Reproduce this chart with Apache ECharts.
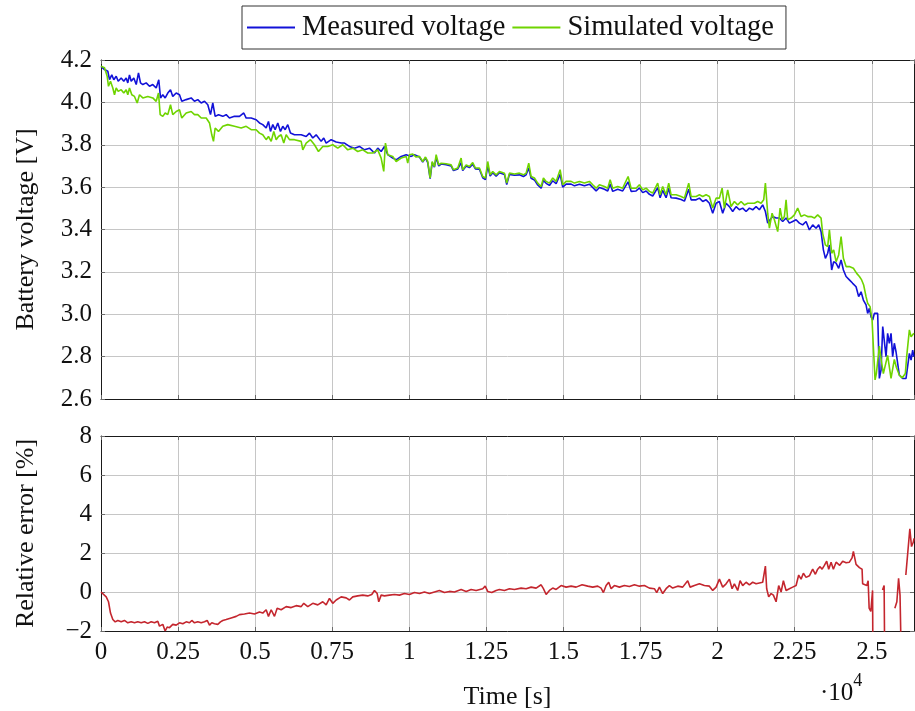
<!DOCTYPE html>
<html>
<head>
<meta charset="utf-8">
<script src="https://cdn.jsdelivr.net/npm/echarts@6/dist/echarts.min.js"></script>
<style>
html, body { margin: 0; padding: 0; background: #fff; }
#chart { width: 915px; height: 711px; }
</style>
</head>
<body>
<div id="chart"></div>
<script>
// Measured battery voltage [V] over time [s]
const measuredTime = [0,114,169,221,276,350,415,493,558,655,739,817,869,924,979,1064,1142,1216,1281,1356,1466,1573,1680,1790,1874,1930,2004,2082,2166,2254,2328,2439,2546,2620,2763,2925,3032,3139,3250,3357,3464,3551,3626,3703,3811,3950,4060,4167,4329,4492,4631,4709,4871,5033,5140,5247,5357,5432,5497,5572,5649,5734,5821,5896,5974,6058,6146,6275,6493,6655,6762,6869,6979,7141,7225,7303,7465,7628,7790,7897,8059,8221,8383,8546,8708,8870,8977,9087,9194,9301,9463,9573,9736,9898,10060,10167,10329,10436,10524,10598,10676,10741,10815,10871,10955,11033,11195,11357,11432,11571,11681,11733,11843,11950,12057,12145,12274,12382,12469,12544,12622,12706,12816,12923,13086,13160,13248,13410,13572,13702,13789,13874,13951,14058,14165,14276,14350,14438,14545,14652,14762,14892,14976,15086,15249,15356,15518,15680,15842,15949,16059,16166,16329,16436,16514,16598,16760,16922,17097,17194,17356,17463,17570,17681,17788,17895,18057,18135,18219,18329,18414,18491,18654,18816,18923,19063,19140,19302,19410,19517,19627,19734,19841,19951,20058,20165,20275,20382,20489,20599,20707,20814,20924,21031,21138,21248,21355,21462,21550,21624,21702,21787,21897,22004,22111,22221,22328,22435,22545,22652,22759,22869,22977,23084,23194,23279,23356,23431,23496,23570,23626,23700,23765,23843,23927,24005,24080,24167,24274,24381,24491,24575,24653,24728,24815,24867,24923,24978,25030,25085,25140,25192,25246,25301,25356,25408,25463,25515,25570,25625,25678,25732,25787,25840,25894,26001,26112,26164,26220,26275,26327,26365];
const measuredVoltage = [4.170,4.155,4.160,4.147,4.107,4.130,4.107,4.123,4.100,4.115,4.100,4.115,4.092,4.130,4.100,4.115,4.084,4.139,4.092,4.084,4.092,4.076,4.084,4.068,4.107,4.021,4.036,4.021,4.044,4.060,4.028,4.044,4.036,4.005,4.013,4.021,4.005,4.013,3.997,4.005,3.989,3.942,3.997,3.934,3.942,3.934,3.942,3.926,3.934,3.934,3.950,3.926,3.926,3.918,3.903,3.895,3.879,3.910,3.863,3.895,3.871,3.903,3.863,3.887,3.871,3.895,3.855,3.847,3.847,3.839,3.855,3.832,3.847,3.816,3.832,3.808,3.824,3.813,3.808,3.808,3.792,3.784,3.792,3.776,3.784,3.761,3.784,3.768,3.792,3.753,3.737,3.729,3.745,3.753,3.745,3.753,3.742,3.718,3.738,3.716,3.640,3.716,3.694,3.740,3.700,3.709,3.706,3.700,3.678,3.686,3.715,3.678,3.700,3.692,3.708,3.686,3.684,3.644,3.636,3.700,3.652,3.668,3.652,3.668,3.660,3.612,3.660,3.656,3.658,3.650,3.658,3.690,3.642,3.634,3.610,3.595,3.632,3.618,3.608,3.630,3.616,3.660,3.600,3.614,3.614,3.606,3.614,3.606,3.614,3.598,3.582,3.598,3.590,3.582,3.615,3.580,3.590,3.582,3.625,3.580,3.582,3.596,3.574,3.582,3.566,3.558,3.598,3.550,3.585,3.550,3.595,3.550,3.548,3.542,3.534,3.590,3.540,3.540,3.548,3.532,3.540,3.524,3.477,3.524,3.532,3.477,3.524,3.508,3.485,3.508,3.493,3.501,3.485,3.501,3.493,3.508,3.493,3.516,3.485,3.430,3.446,3.461,3.454,3.454,3.438,3.454,3.430,3.438,3.446,3.430,3.422,3.438,3.398,3.422,3.406,3.422,3.390,3.304,3.264,3.288,3.327,3.209,3.248,3.241,3.217,3.256,3.209,3.178,3.162,3.146,3.130,3.083,3.106,3.067,3.044,3.004,3.028,2.988,2.973,3.004,3.012,3.004,2.697,2.737,2.942,2.950,2.800,2.910,2.863,2.910,2.800,2.863,2.823,2.815,2.713,2.697,2.697,2.697,2.815,2.784,2.831,2.800];

// Simulated battery voltage [V] over time [s]
const simulatedTime = [0,114,201,243,308,383,438,493,558,655,739,817,869,924,999,1086,1174,1249,1356,1518,1680,1790,1865,1920,2004,2082,2166,2254,2328,2439,2546,2620,2763,2925,3032,3139,3250,3412,3519,3593,3648,3703,3811,3950,4112,4329,4547,4709,4871,5033,5140,5247,5357,5432,5520,5604,5682,5756,5844,5928,6006,6113,6275,6493,6545,6655,6794,6924,7054,7193,7355,7517,7679,7842,8004,8166,8328,8490,8652,8815,8977,9087,9171,9226,9301,9463,9573,9736,9898,9949,10005,10112,10222,10329,10436,10524,10598,10676,10741,10815,10871,10955,11033,11195,11357,11432,11571,11681,11733,11843,11950,12057,12145,12274,12382,12469,12544,12622,12706,12816,12923,13086,13160,13248,13410,13572,13702,13789,13874,13951,14058,14165,14276,14350,14438,14545,14652,14762,14892,14976,15086,15249,15356,15518,15680,15842,15949,16059,16166,16329,16436,16514,16598,16760,16922,17097,17194,17356,17463,17570,17681,17788,17895,18057,18135,18219,18329,18414,18491,18654,18816,18923,19063,19140,19302,19410,19517,19627,19734,19841,19951,20058,20146,20220,20327,20437,20544,20651,20761,20869,20976,21086,21193,21300,21410,21495,21550,21624,21680,21767,21842,21949,22027,22092,22166,22221,22273,22383,22490,22597,22707,22814,22921,23032,23139,23246,23301,23356,23408,23496,23570,23626,23700,23765,23843,23927,24005,24080,24167,24274,24404,24511,24599,24672,24737,24815,24867,24945,25010,25052,25107,25149,25246,25311,25376,25515,25625,25732,25797,25894,25992,26089,26132,26220,26275,26365];
const simulatedVoltage = [4.170,4.163,4.123,4.076,4.100,4.068,4.036,4.068,4.052,4.060,4.044,4.060,4.036,4.068,4.036,4.028,3.997,4.036,4.021,4.028,4.021,4.005,4.044,3.942,3.934,3.950,3.942,3.989,3.942,3.957,3.965,3.926,3.950,3.957,3.942,3.942,3.926,3.926,3.903,3.847,3.816,3.879,3.863,3.887,3.895,3.887,3.879,3.887,3.871,3.871,3.855,3.847,3.824,3.839,3.816,3.863,3.824,3.839,3.847,3.808,3.847,3.824,3.824,3.816,3.776,3.808,3.824,3.800,3.768,3.792,3.792,3.800,3.784,3.800,3.776,3.784,3.768,3.776,3.761,3.761,3.776,3.737,3.674,3.808,3.753,3.745,3.721,3.737,3.745,3.713,3.753,3.756,3.742,3.745,3.721,3.742,3.721,3.643,3.721,3.697,3.753,3.705,3.713,3.710,3.705,3.682,3.690,3.737,3.682,3.705,3.697,3.716,3.690,3.690,3.650,3.643,3.721,3.658,3.674,3.658,3.674,3.666,3.619,3.666,3.662,3.666,3.658,3.666,3.713,3.650,3.643,3.619,3.603,3.643,3.627,3.619,3.643,3.627,3.682,3.611,3.627,3.627,3.619,3.627,3.619,3.627,3.611,3.595,3.611,3.603,3.595,3.635,3.595,3.603,3.595,3.650,3.595,3.595,3.611,3.587,3.595,3.580,3.572,3.619,3.564,3.603,3.564,3.619,3.564,3.564,3.556,3.548,3.619,3.556,3.556,3.564,3.556,3.564,3.556,3.501,3.548,3.548,3.595,3.501,3.587,3.508,3.532,3.516,3.532,3.516,3.524,3.524,3.524,3.532,3.524,3.540,3.619,3.477,3.406,3.477,3.446,3.390,3.501,3.446,3.461,3.540,3.446,3.454,3.469,3.501,3.461,3.469,3.461,3.461,3.454,3.469,3.477,3.454,3.382,3.327,3.319,3.398,3.288,3.304,3.248,3.280,3.367,3.264,3.225,3.225,3.217,3.193,3.178,3.162,3.138,3.083,3.052,3.036,2.973,2.847,2.690,2.720,2.850,2.780,2.720,2.806,2.697,2.787,2.750,2.713,2.700,2.720,2.800,2.926,2.894,2.910];

// Relative error [%] of the simulation; null marks a break in the trace
const errorTime = [0,58,169,243,308,383,460,545,655,762,869,979,1086,1193,1304,1411,1518,1628,1735,1842,1897,2004,2082,2147,2221,2328,2439,2546,2653,2763,2870,2945,3032,3139,3250,3357,3444,3519,3593,3681,3788,3875,3950,4060,4222,4385,4492,4654,4816,4978,5140,5247,5357,5432,5520,5627,5714,5844,6006,6168,6330,6493,6577,6707,6869,7031,7193,7303,7410,7517,7628,7790,7952,8059,8166,8328,8490,8652,8782,8870,8958,9009,9087,9194,9356,9518,9680,9842,10005,10167,10329,10491,10653,10815,10977,11140,11302,11464,11681,11843,12005,12168,12382,12460,12544,12674,12816,12923,13086,13248,13410,13627,13789,13951,14114,14276,14350,14438,14545,14652,14762,14924,15086,15249,15411,15605,15787,15949,16111,16221,16296,16384,16468,16546,16653,16815,16977,17139,17302,17464,17626,17788,17950,18025,18112,18219,18329,18436,18543,18706,18868,19030,19108,19247,19410,19572,19734,19841,19951,20058,20165,20275,20382,20469,20544,20651,20729,20814,20924,21031,21138,21248,21355,21462,21550,21592,21657,21735,21809,21897,21981,22059,22134,22221,22328,22435,22545,22630,22707,22782,22869,22977,23084,23171,23246,23324,23389,23463,23538,23603,23681,23755,23843,23960,24057,24167,24274,24361,24404,24491,24599,24686,24704,24840,24882,24915,24970,25026,25046,25200,25349,25401,25432,25550,25749,25814,25870,25917,25965,25988,26040,26105,26154,26235,26290,26346,26370];
const errorPercent = [0.00,-0.08,-0.25,-0.50,-1.08,-1.41,-1.53,-1.46,-1.53,-1.46,-1.58,-1.53,-1.58,-1.53,-1.58,-1.53,-1.61,-1.53,-1.58,-1.50,-1.75,-1.66,-2.00,-1.80,-1.83,-1.66,-1.70,-1.58,-1.63,-1.53,-1.58,-1.46,-1.58,-1.53,-1.58,-1.53,-1.46,-1.70,-1.58,-1.63,-1.66,-1.53,-1.46,-1.41,-1.33,-1.25,-1.16,-1.13,-1.08,-1.13,-1.03,-1.08,-0.91,-1.25,-0.91,-1.25,-0.83,-0.91,-0.75,-0.80,-0.70,-0.75,-0.58,-0.75,-0.58,-0.66,-0.50,-0.66,-0.33,-0.58,-0.41,-0.25,-0.30,-0.41,-0.25,-0.20,-0.16,-0.20,-0.13,0.08,-0.08,-0.50,-0.16,-0.20,-0.16,-0.13,-0.16,-0.08,-0.13,-0.03,-0.08,0.00,-0.08,0.00,0.08,-0.03,0.03,0.00,0.13,0.03,0.13,0.08,0.17,0.30,0.03,-0.03,0.08,0.13,0.08,0.17,0.13,0.20,0.17,0.25,0.20,0.37,0.17,-0.13,0.08,0.20,0.13,0.33,0.25,0.30,0.25,0.37,0.30,0.25,0.30,0.20,-0.03,0.33,0.50,0.17,0.33,0.25,0.33,0.28,0.37,0.30,0.33,0.20,0.17,-0.03,0.25,-0.08,0.17,0.33,0.20,0.30,0.25,0.58,0.25,0.33,0.42,0.33,0.30,0.08,0.25,0.66,0.25,0.42,0.66,0.17,0.42,0.08,0.58,0.33,0.50,0.37,0.50,0.42,0.46,0.50,1.33,0.17,-0.25,-0.08,-0.16,-0.50,0.33,0.00,0.58,0.08,0.17,0.25,0.33,0.87,0.66,0.96,0.75,0.83,1.17,0.91,1.17,1.30,1.17,1.37,1.58,1.17,1.53,1.17,1.53,1.37,1.58,1.50,1.53,1.75,2.08,1.42,1.25,1.17,0.42,0.33,0.58,-0.83,-1.00,0.08,-6.00,null,0.10,0.33,-6.00,null,-0.83,-0.50,0.70,-0.16,-0.25,-6.00,null,0.87,0.90,3.24,2.33,2.55,2.75];

// Axis ranges and tick steps
const timeMax = 26370;
const timeStep = 2500;
const voltageMin = 2.6, voltageMax = 4.2, voltageStep = 0.2;
const errorMin = -2, errorMax = 8, errorStep = 2;

const FONT = 'Liberation Serif';
const GRID_COLOR = '#c6c6c6';
const AXIS_COLOR = '#1a1a1a';
const TICK_COLOR = '#6a6a6a';

const toPairs = (ts, vs) => ts.map((t, i) => [t, vs[i] === null ? '-' : vs[i]]);
const timeLabel = v => (v === 0 ? '0' : String(+(v / 10000).toFixed(4)));
const minusLabel = v => String(v).replace('-', '\u2212');

function xAxisOf(gridIndex, position, showLabels) {
  const main = position === 'bottom';
  return {
    type: 'value', gridIndex, position,
    min: 0, max: timeMax, interval: timeStep,
    axisLine: { show: true, onZero: false, lineStyle: { color: AXIS_COLOR, width: 1 } },
    axisTick: { show: true, inside: true, length: 4, lineStyle: { color: TICK_COLOR, width: 1 } },
    axisLabel: {
      show: showLabels, formatter: timeLabel, margin: 9, showMaxLabel: false,
      fontFamily: FONT, fontSize: 25, color: '#111'
    },
    splitLine: { show: main, lineStyle: { color: GRID_COLOR, width: 1 } }
  };
}

function yAxisOf(gridIndex, position, min, max, step, fmt) {
  const main = position === 'left';
  return {
    type: 'value', gridIndex, position,
    min, max, interval: step,
    axisLine: { show: true, onZero: false, lineStyle: { color: AXIS_COLOR, width: 1 } },
    axisTick: { show: true, inside: true, length: 4, lineStyle: { color: TICK_COLOR, width: 1 } },
    axisLabel: {
      show: main, formatter: fmt, margin: 9,
      fontFamily: FONT, fontSize: 25, color: '#111'
    },
    splitLine: { show: main, lineStyle: { color: GRID_COLOR, width: 1 } }
  };
}

const xAxes = [
  xAxisOf(0, 'bottom', false),
  xAxisOf(0, 'top', false),
  Object.assign(xAxisOf(1, 'bottom', true), {
    name: 'Time [s]', nameLocation: 'middle', nameGap: 53,
    nameTextStyle: { fontFamily: FONT, fontSize: 26, color: '#111' }
  }),
  xAxisOf(1, 'top', false)
];

const yAxes = [
  Object.assign(yAxisOf(0, 'left', voltageMin, voltageMax, voltageStep, v => v.toFixed(1)), {
    name: 'Battery voltage [V]', nameLocation: 'middle', nameGap: 62, nameRotate: 90,
    nameTextStyle: { fontFamily: FONT, fontSize: 26, color: '#111' }
  }),
  yAxisOf(0, 'right', voltageMin, voltageMax, voltageStep, v => v.toFixed(1)),
  Object.assign(yAxisOf(1, 'left', errorMin, errorMax, errorStep, minusLabel), {
    name: 'Relative error [%]', nameLocation: 'middle', nameGap: 62, nameRotate: 90,
    nameTextStyle: { fontFamily: FONT, fontSize: 26, color: '#111' }
  }),
  yAxisOf(1, 'right', errorMin, errorMax, errorStep, minusLabel)
];

const chart = echarts.init(document.getElementById('chart'), null, { renderer: 'canvas' });

chart.setOption({
  animation: false,
  backgroundColor: '#ffffff',
  textStyle: { fontFamily: FONT },
  grid: [
    { left: 101, right: 1, top: 60, height: 339 },
    { left: 101, right: 1, top: 436, height: 201 }
  ],
  legend: {
    left: 242, top: 6,
    data: ['Measured voltage', 'Simulated voltage'],
    icon: 'rect', itemWidth: 48, itemHeight: 2, itemGap: 7,
    padding: [7, 12, 7, 5],
    borderColor: '#333', borderWidth: 1, borderRadius: 0,
    backgroundColor: '#fff',
    textStyle: { fontFamily: FONT, fontSize: 28.5, color: '#111', padding: [0, 0, 0, 2] }
  },
  xAxis: xAxes,
  yAxis: yAxes,
  series: [
    {
      name: 'Measured voltage', type: 'line', xAxisIndex: 0, yAxisIndex: 0,
      data: toPairs(measuredTime, measuredVoltage),
      showSymbol: false, symbol: 'none',
      lineStyle: { color: '#1212d8', width: 1.6 }, itemStyle: { color: '#1212d8' }
    },
    {
      name: 'Simulated voltage', type: 'line', xAxisIndex: 0, yAxisIndex: 0,
      data: toPairs(simulatedTime, simulatedVoltage),
      showSymbol: false, symbol: 'none',
      lineStyle: { color: '#6fd400', width: 1.6 }, itemStyle: { color: '#6fd400' }
    },
    {
      name: 'Relative error', type: 'line', xAxisIndex: 2, yAxisIndex: 2,
      data: toPairs(errorTime, errorPercent),
      showSymbol: false, symbol: 'none', connectNulls: false, clip: true,
      lineStyle: { color: '#c4262e', width: 1.6 }, itemStyle: { color: '#c4262e' }
    }
  ],
  graphic: [
    {
      type: 'text', left: 820, top: 672,
      style: {
        text: '{m|\u00b710}{s|4}',
        rich: {
          m: { fontFamily: FONT, fontSize: 25, fill: '#111', verticalAlign: 'bottom', lineHeight: 34 },
          s: { fontFamily: FONT, fontSize: 18, fill: '#111', verticalAlign: 'top', lineHeight: 34 }
        }
      }
    }
  ]
});
</script>
</body>
</html>
